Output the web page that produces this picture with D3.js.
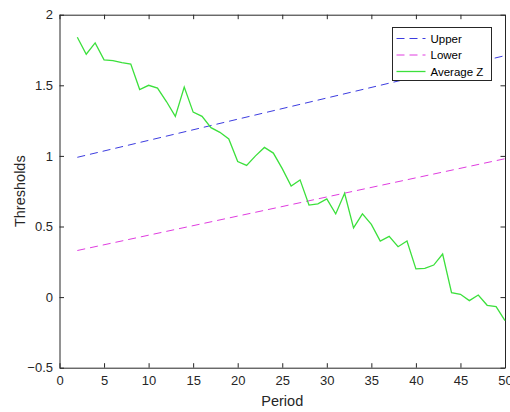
<!DOCTYPE html>
<html>
<head>
<meta charset="utf-8">
<script src="https://d3js.org/d3.v7.min.js"></script>
<style>
body { margin: 0; background: #fff; }
svg { font-family: "Liberation Sans", Arial, sans-serif; }
</style>
</head>
<body>
<div id="chart"></div>
<script>
// data
var periods = d3.range(2, 51);
var avgZ = [1.84, 1.72, 1.80, 1.68, 1.675, 1.66, 1.65, 1.47, 1.50, 1.48,
            1.385, 1.28, 1.487, 1.31, 1.28, 1.20, 1.167, 1.12, 0.96, 0.933,
            1.0, 1.06, 1.02, 0.91, 0.787, 0.83, 0.652, 0.66, 0.695, 0.589,
            0.735, 0.49, 0.59, 0.515, 0.397, 0.43, 0.357, 0.397, 0.2, 0.204,
            0.227, 0.305, 0.031, 0.02, -0.025, 0.015, -0.058, -0.068, -0.167];
var upperEnds = [[2, 0.99], [50, 1.71]];
var lowerEnds = [[2, 0.33], [50, 0.98]];
var xTicks = d3.range(0, 51, 5);
var yTicks = [-0.5, 0, 0.5, 1, 1.5, 2];
var legendItems = [
  {name: "Upper", color: "#3c3ce0", dash: "8,5"},
  {name: "Lower", color: "#e03ce0", dash: "8,5"},
  {name: "Average Z", color: "#3ce03c", dash: null}
];

var W = 510, H = 412;
var mLeft = 59.5, mRight = 505, mTop = 14.7, mBottom = 367.7;

var svg = d3.select("#chart").append("svg")
  .attr("width", W).attr("height", H);

var x = d3.scaleLinear().domain([0, 50]).range([mLeft, mRight]);
var y = d3.scaleLinear().domain([-0.5, 2]).range([mBottom, mTop]);

var axisColor = "#262626";

// axes (box with inward ticks)
var xAxis = svg.append("g")
  .attr("transform", "translate(0," + mBottom + ")")
  .call(d3.axisBottom(x).tickValues(xTicks).tickSizeInner(-4.5).tickSizeOuter(0).tickPadding(8));
var xTop = svg.append("g")
  .attr("transform", "translate(0," + mTop + ")")
  .call(d3.axisTop(x).tickValues(xTicks).tickSizeInner(-4.5).tickSizeOuter(0).tickFormat(""));
var yAxis = svg.append("g")
  .attr("transform", "translate(" + mLeft + ",0)")
  .call(d3.axisLeft(y).tickValues(yTicks).tickSizeInner(-4.5).tickSizeOuter(0).tickPadding(6.5).tickFormat(d3.format("")));
var yRight = svg.append("g")
  .attr("transform", "translate(" + mRight + ",0)")
  .call(d3.axisRight(y).tickValues(yTicks).tickSizeInner(-4.5).tickSizeOuter(0).tickFormat(""));

[xAxis, xTop, yAxis, yRight].forEach(function(g) {
  g.selectAll("path, line").attr("stroke", axisColor);
  g.selectAll("text").attr("fill", axisColor).style("font-size", "13px");
});

// lines
var line = d3.line().x(d => x(d[0])).y(d => y(d[1]));

svg.append("path")
  .datum(upperEnds)
  .attr("d", line)
  .attr("fill", "none")
  .attr("stroke", legendItems[0].color)
  .attr("stroke-width", 1)
  .attr("stroke-dasharray", legendItems[0].dash);

svg.append("path")
  .datum(lowerEnds)
  .attr("d", line)
  .attr("fill", "none")
  .attr("stroke", legendItems[1].color)
  .attr("stroke-width", 1)
  .attr("stroke-dasharray", legendItems[1].dash);

svg.append("path")
  .datum(periods.map((p, i) => [p, avgZ[i]]))
  .attr("d", line)
  .attr("fill", "none")
  .attr("stroke", legendItems[2].color)
  .attr("stroke-width", 1.3);

// axis labels
svg.append("text")
  .attr("x", (mLeft + mRight) / 2).attr("y", 405.5)
  .attr("text-anchor", "middle")
  .attr("fill", axisColor)
  .style("font-size", "14.5px")
  .text("Period");

svg.append("text")
  .attr("transform", "translate(25," + ((mTop + mBottom) / 2) + ") rotate(-90)")
  .attr("text-anchor", "middle")
  .attr("fill", axisColor)
  .style("font-size", "14.5px")
  .text("Thresholds");

// legend
var lg = svg.append("g").attr("transform", "translate(392.5,27.5)");
lg.append("rect")
  .attr("width", 99).attr("height", 53)
  .attr("fill", "#fff").attr("stroke", axisColor).attr("stroke-width", 1);

legendItems.forEach(function(d, i) {
  var ry = 11 + i * 16.5;
  lg.append("line")
    .attr("x1", 4).attr("x2", 33).attr("y1", ry).attr("y2", ry)
    .attr("stroke", d.color).attr("stroke-width", d.dash ? 1 : 1.3)
    .attr("stroke-dasharray", d.dash);
  lg.append("text")
    .attr("x", 38).attr("y", ry).attr("dy", "0.35em")
    .attr("fill", "#000")
    .style("font-size", "11.5px")
    .text(d.name);
});
</script>
</body>
</html>
